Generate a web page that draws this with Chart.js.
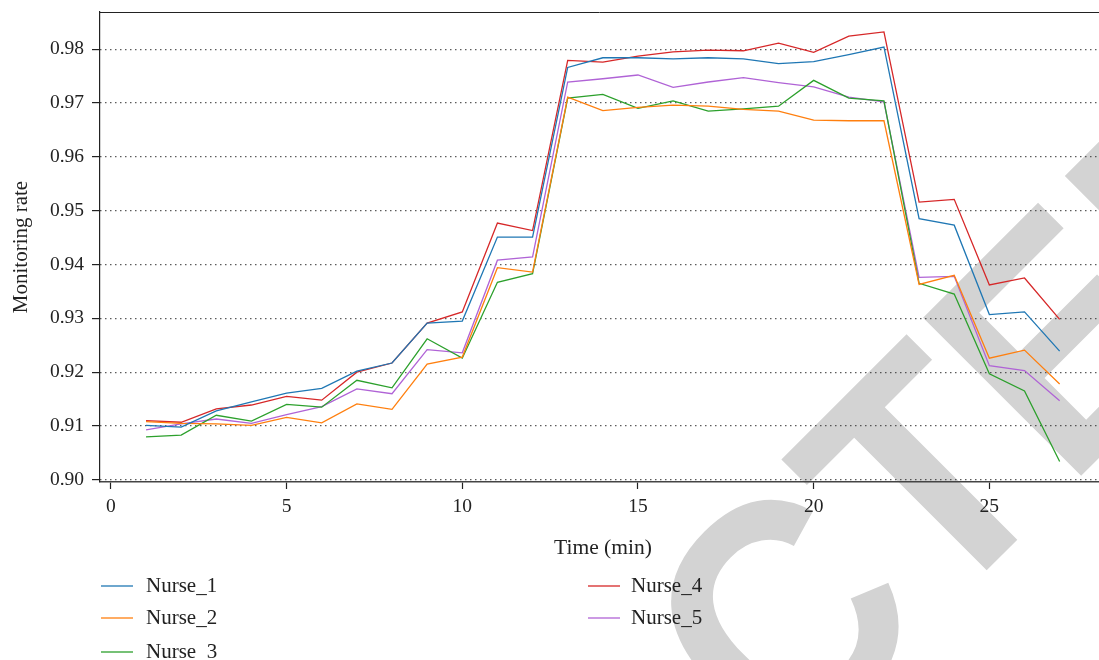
<!DOCTYPE html>
<html>
<head>
<meta charset="utf-8">
<script src="https://cdn.jsdelivr.net/npm/chart.js@4.4.1/dist/chart.umd.min.js"></script>
<style>
  html, body { margin: 0; padding: 0; background: #ffffff; }
  #wrap { width: 1099px; height: 660px; position: relative; }
</style>
</head>
<body>
<div id="wrap"><canvas id="c"></canvas></div>
<script>
// ---- data ----
const timeMin = [1,2,3,4,5,6,7,8,9,10,11,12,13,14,15,16,17,18,19,20,21,22,23,24,25,26,27];
const nurse1 = [0.9101,0.9098,0.9128,0.9145,0.9161,0.9170,0.9202,0.9217,0.9291,0.9295,0.9451,0.9451,0.9766,0.9784,0.9784,0.9782,0.9784,0.9782,0.9773,0.9777,0.9790,0.9804,0.9485,0.9473,0.9307,0.9312,0.9239];
const nurse2 = [0.9108,0.9105,0.9104,0.9101,0.9116,0.9106,0.9141,0.9131,0.9215,0.9228,0.9394,0.9386,0.9711,0.9686,0.9692,0.9696,0.9694,0.9688,0.9685,0.9668,0.9667,0.9667,0.9363,0.9380,0.9226,0.9241,0.9178];
const nurse3 = [0.9080,0.9083,0.9120,0.9109,0.9140,0.9135,0.9185,0.9171,0.9262,0.9226,0.9367,0.9383,0.9709,0.9716,0.9690,0.9704,0.9685,0.9689,0.9694,0.9742,0.9709,0.9704,0.9365,0.9345,0.9197,0.9165,0.9034];
const nurse4 = [0.9110,0.9107,0.9132,0.9139,0.9155,0.9148,0.9200,0.9217,0.9291,0.9312,0.9477,0.9463,0.9779,0.9776,0.9787,0.9795,0.9798,0.9797,0.9811,0.9794,0.9824,0.9832,0.9516,0.9521,0.9362,0.9375,0.9298];
const nurse5 = [0.9093,0.9104,0.9113,0.9105,0.9121,0.9136,0.9169,0.9160,0.9242,0.9236,0.9408,0.9414,0.9739,0.9745,0.9752,0.9729,0.9739,0.9747,0.9738,0.9730,0.9711,0.9702,0.9376,0.9378,0.9212,0.9203,0.9147];
const seriesNames = ['Nurse_1','Nurse_2','Nurse_3','Nurse_4','Nurse_5'];
const seriesColors = ['#1f77b4','#ff7f0e','#2ca02c','#d62728','#b063d6'];
const xTicks = [0,5,10,15,20,25];
const yTicks = [0.90,0.91,0.92,0.93,0.94,0.95,0.96,0.97,0.98];
const xTitle = 'Time (min)';
const yTitle = 'Monitoring rate';
const watermark = 'RETRACTED';

const allSeries = [nurse1, nurse2, nurse3, nurse4, nurse5];
const SERIF = '"Liberation Serif", "DejaVu Serif", serif';

const datasets = allSeries.map((vals, i) => ({
  label: seriesNames[i],
  data: timeMin.map((t, j) => ({ x: t, y: vals[j] })),
  borderColor: seriesColors[i],
  backgroundColor: seriesColors[i],
  borderWidth: 1.3,
  pointRadius: 0,
  tension: 0,
  fill: false
}));

const decor = {
  id: 'decor',
  beforeDraw(chart) {
    // diagonal "RETRACTED" stamp behind the plot
    const ctx = chart.ctx;
    ctx.save();
    ctx.font = 'bold 325px "Liberation Sans", Arial, sans-serif';
    ctx.fillStyle = '#d3d3d3';
    ctx.textBaseline = 'alphabetic';
    ctx.textAlign = 'left';
    const pre = ctx.measureText('RETRAC').width;
    const tw = ctx.measureText('T').width;
    ctx.translate(1002, 555);      // baseline point under the second "T"
    ctx.rotate(-Math.PI / 4);
    ctx.scale(0.925, 1);
    ctx.fillText(watermark, -(pre + tw / 2), 0);
    ctx.restore();
  },
  afterDraw(chart) {
    const ctx = chart.ctx;
    const a = chart.chartArea;
    ctx.save();
    // top frame line
    ctx.strokeStyle = '#222';
    ctx.lineWidth = 1;
    ctx.beginPath();
    ctx.moveTo(a.left, a.top + 0.5);
    ctx.lineTo(a.right, a.top + 0.5);
    ctx.stroke();
    // axis titles
    ctx.fillStyle = '#222';
    ctx.textAlign = 'center';
    ctx.textBaseline = 'middle';
    ctx.font = '21.5px ' + SERIF;
    ctx.fillText(xTitle, 603, 548);
    ctx.font = '21px ' + SERIF;
    ctx.save();
    ctx.translate(21, 247);
    ctx.rotate(-Math.PI / 2);
    ctx.fillText(yTitle, 0, 0);
    ctx.restore();
    // legend (two columns, column-major)
    const cols = [{ l: 101, t: 146 }, { l: 588, t: 631 }];
    const rows = [586, 618, 652];
    ctx.textAlign = 'left';
    ctx.font = '21px ' + SERIF;
    chart.data.datasets.forEach((ds, i) => {
      const c = cols[Math.floor(i / 3)];
      const y = rows[i % 3];
      ctx.strokeStyle = ds.borderColor;
      ctx.lineWidth = 1.3;
      ctx.beginPath();
      ctx.moveTo(c.l, y);
      ctx.lineTo(c.l + 32, y);
      ctx.stroke();
      ctx.fillStyle = '#222';
      ctx.fillText(ds.label, c.t, y);
    });
    ctx.restore();
  }
};

new Chart(document.getElementById('c'), {
  type: 'line',
  data: { datasets },
  options: {
    responsive: true,
    maintainAspectRatio: false,
    animation: false,
    layout: { padding: { top: 12, left: 0, right: 0, bottom: 0 } },
    plugins: { legend: { display: false }, tooltip: { enabled: false }, title: { display: false } },
    scales: {
      x: {
        type: 'linear',
        min: -0.31,
        max: 28.12,
        afterFit(scale) { scale.height = 178; scale.paddingLeft = 0; scale.paddingRight = 0; },
        afterBuildTicks(scale) { scale.ticks = xTicks.map(v => ({ value: v })); },
        grid: { display: true, drawOnChartArea: false, drawTicks: true, tickLength: 7, tickColor: '#222', tickWidth: 1.2 },
        border: { display: true, color: '#444', width: 1.5 },
        ticks: { color: '#222', font: { family: SERIF, size: 19.5 }, padding: 6, maxRotation: 0, callback: v => String(v) }
      },
      y: {
        type: 'linear',
        min: 0.8996,
        max: 0.9869,
        afterFit(scale) { scale.width = 100; scale.paddingTop = 0; scale.paddingBottom = 0; },
        afterBuildTicks(scale) { scale.ticks = yTicks.map(v => ({ value: v })); },
        grid: { display: true, drawOnChartArea: true, drawTicks: true, tickLength: 8, color: '#333', lineWidth: 1.2, tickColor: '#222', tickWidth: 1.2, tickBorderDash: [] },
        border: { display: true, color: '#222', width: 1.2, dash: [1.2, 3.8] },
        ticks: { color: '#222', font: { family: SERIF, size: 19.5 }, padding: 8, callback: v => v.toFixed(2) }
      }
    }
  },
  plugins: [decor]
});
</script>
</body>
</html>
